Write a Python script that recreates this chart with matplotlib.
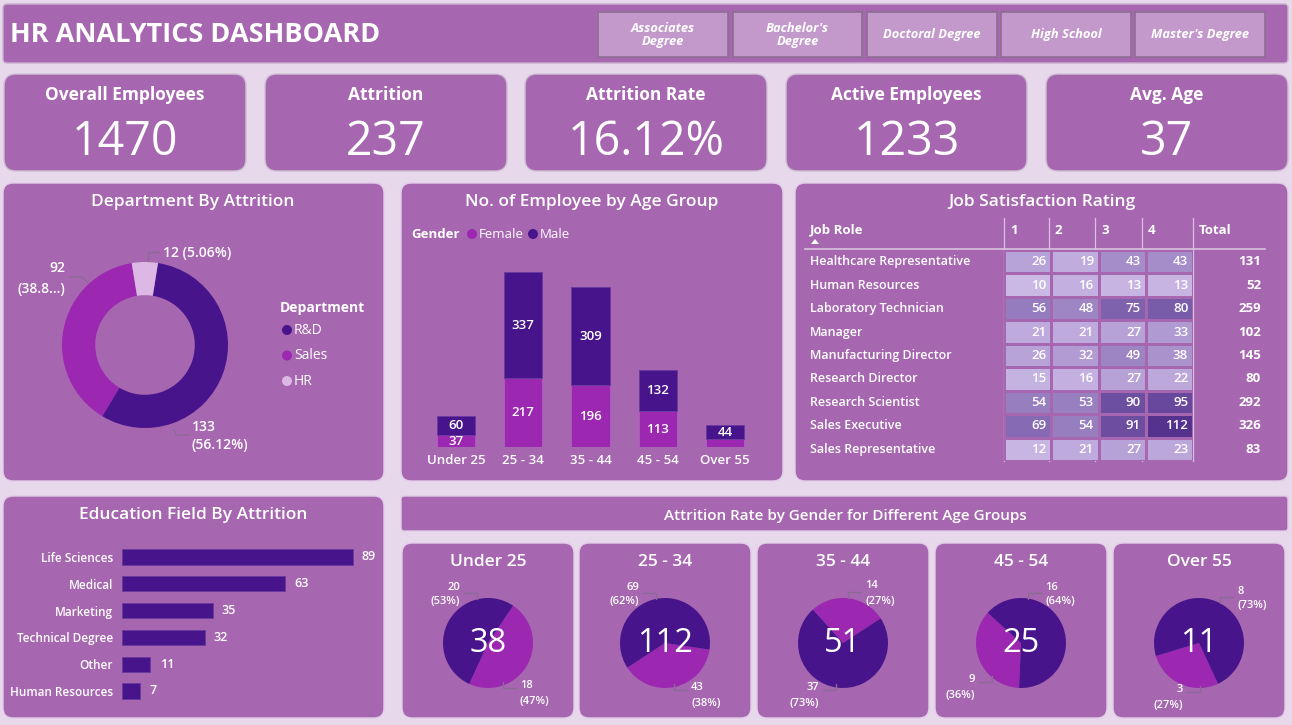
import numpy as np
import matplotlib
matplotlib.use('Agg')
import matplotlib.pyplot as plt
from matplotlib.patches import FancyBboxPatch, Circle, Polygon
from matplotlib.colors import LinearSegmentedColormap

plt.rcParams['font.family'] = ['Open Sans', 'DejaVu Sans']

# ---------------- data ----------------
edu_buttons = ["Associates\nDegree", "Bachelor's\nDegree", "Doctoral Degree", "High School", "Master's Degree"]

kpi_titles = ['Overall Employees', 'Attrition', 'Attrition Rate', 'Active Employees', 'Avg. Age']
kpi_values = ['1470', '237', '16.12%', '1233', '37']

dept_names = ['R&D', 'Sales', 'HR']
dept_attrition = [133, 92, 12]

age_groups = ['Under 25', '25 - 34', '35 - 44', '45 - 54', 'Over 55']
female_count = [37, 217, 196, 113, 25]
male_count = [60, 337, 309, 132, 44]

job_roles = ['Healthcare Representative', 'Human Resources', 'Laboratory Technician', 'Manager',
             'Manufacturing Director', 'Research Director', 'Research Scientist', 'Sales Executive',
             'Sales Representative']
sat_levels = ['1', '2', '3', '4']
sat_counts = [[26, 19, 43, 43],
              [10, 16, 13, 13],
              [56, 48, 75, 80],
              [21, 21, 27, 33],
              [26, 32, 49, 38],
              [15, 16, 27, 22],
              [54, 53, 90, 95],
              [69, 54, 91, 112],
              [12, 21, 27, 23]]

edu_fields = ['Life Sciences', 'Medical', 'Marketing', 'Technical Degree', 'Other', 'Human Resources']
edu_attrition = [89, 63, 35, 32, 11, 7]

attr_female = [18, 43, 14, 9, 3]
attr_male = [20, 69, 37, 16, 8]

# ---------------- style ----------------
BG = '#E8D8EC'
PANEL = '#A666B0'
EDGE = '#E3CCE8'
DARK = '#48148B'
MAG = '#9C27B0'
LIGHT = '#DDB8E4'
BTN = '#C398CB'
LEAD = '#8A6C93'
W, H = 1292, 725

fig = plt.figure(figsize=(W / 100, H / 100), dpi=100)
fig.patch.set_facecolor(BG)
bg = fig.add_axes([0, 0, 1, 1])
bg.set_xlim(0, W)
bg.set_ylim(H, 0)
bg.axis('off')


def card(x0, y0, x1, y1, r=10, fc=PANEL, ec=EDGE, lw=1.0):
    bg.add_patch(FancyBboxPatch((x0, y0), x1 - x0, y1 - y0,
                                boxstyle=f'round,pad=0,rounding_size={r}',
                                fc=fc, ec=ec, lw=lw))


def txt(x, y, s, size=10, weight='normal', ha='center', va='center', color='white', ax=None, **kw):
    (ax or bg).text(x, y, s, fontsize=size, fontweight=weight, ha=ha, va=va, color=color, **kw)


def sub(x0, y0, x1, y1):
    ax = fig.add_axes([x0 / W, 1 - y1 / H, (x1 - x0) / W, (y1 - y0) / H])
    ax.set_facecolor('none')
    return ax


def leader(pts, ax=None):
    xs, ys = zip(*pts)
    (ax or bg).plot(xs, ys, color=LEAD, lw=0.9)


# ---------------- header ----------------
card(3, 4, 1288, 63, r=4, ec='#C9B2CE')
txt(10, 34.5, 'HR ANALYTICS DASHBOARD', size=19.5, weight='bold', ha='left')
btn_x = [(598, 728), (733, 862), (867, 997), (1001, 1131), (1135, 1265)]
for (x0, x1), name in zip(btn_x, edu_buttons):
    card(x0, 12, x1, 57, r=0, fc=BTN, ec='#8C6E92', lw=1.2)
    txt((x0 + x1) / 2, 34.5, name, size=9.3, weight='bold', style='italic', linespacing=1.0)

# ---------------- KPI cards ----------------
kpi_x = [(4, 246), (265, 507), (525, 767), (786, 1027), (1046, 1288)]
for (x0, x1), t, v in zip(kpi_x, kpi_titles, kpi_values):
    card(x0, 74, x1, 171, r=12, ec='#CDBFD1')
    txt((x0 + x1) / 2, 95, t, size=12.5, weight='bold')
    txt((x0 + x1) / 2, 142, v, size=33.5)

# ---------------- Department donut ----------------
card(3, 183, 384, 481)
txt(193, 202, 'Department By Attrition', size=12.5, weight='semibold')
ax = sub(62, 262, 228, 428)
ax.pie(dept_attrition, colors=[DARK, MAG, LIGHT], startangle=81, counterclock=False,
       wedgeprops=dict(width=0.4, edgecolor='none'), radius=1)
ax.set_xlim(-1, 1)
ax.set_ylim(-1, 1)
txt(192, 427, '133', size=10, weight='semibold', ha='left')
txt(192, 445, '(56.12%)', size=10, weight='semibold', ha='left')
leader([(174, 429), (176, 435), (189, 435)])
txt(65, 268, '92', size=10, weight='semibold', ha='right')
txt(65, 289, '(38.8...)', size=10, weight='semibold', ha='right')
leader([(70, 277), (82, 277), (88, 283)])
txt(163, 253, '12 (5.06%)', size=10, weight='semibold', ha='left')
leader([(148, 261), (148, 252), (159, 252)])
txt(280, 308, 'Department', size=10, weight='bold', ha='left')
for i, (name, col) in enumerate(zip(dept_names, [DARK, MAG, LIGHT])):
    yy = 330 + i * 25.5
    bg.add_patch(Circle((287, yy), 5, fc=col, ec='none'))
    txt(294, yy, name, size=10, ha='left')

# ---------------- Age group stacked bars ----------------
card(401, 183, 783, 481)
txt(592, 202, 'No. of Employee by Age Group', size=12.5, weight='semibold')
txt(411, 234, 'Gender', size=9.5, weight='bold', ha='left')
bg.add_patch(Circle((472, 234), 5, fc=MAG, ec='none'))
txt(479, 234, 'Female', size=9.5, ha='left')
bg.add_patch(Circle((533, 234), 5, fc=DARK, ec='none'))
txt(540, 234, 'Male', size=9.5, ha='left')
ax = sub(415.6, 272, 765.4, 447)
xs = np.arange(len(age_groups))
ax.bar(xs, female_count, width=0.57, color=MAG, edgecolor='#B35BC0', lw=0.6)
ax.bar(xs, male_count, bottom=female_count, width=0.57, color=DARK, edgecolor='#6A3AA0', lw=0.6)
for x, f, m in zip(xs, female_count, male_count):
    if f > 30:
        ax.text(x, f / 2, str(f), ha='center', va='center', color='white', fontsize=9.5, fontweight='semibold')
    ax.text(x, f + m / 2, str(m), ha='center', va='center', color='white', fontsize=9.5, fontweight='semibold')
ax.set_xlim(-0.6, 4.6)
ax.set_ylim(0, max(f + m for f, m in zip(female_count, male_count)))
ax.set_xticks(xs, age_groups)
ax.tick_params(axis='x', length=0, pad=5, colors='white', labelsize=9.5)
for lab in ax.get_xticklabels():
    lab.set_fontweight('semibold')
ax.set_yticks([])
for s in ax.spines.values():
    s.set_visible(False)

# ---------------- Job satisfaction table ----------------
card(795, 183, 1288, 481)
txt(1042, 202, 'Job Satisfaction Rating', size=12.5, weight='semibold')
col_x = [1004, 1049, 1095, 1142, 1193]
row_top, row_h = 250, 23.45
cmap = LinearSegmentedColormap.from_list('sat', ['#CAB8E5', '#54328E'])
ax = sub(1004, row_top, 1193, row_top + row_h * len(job_roles))
ax.pcolormesh(np.array(sat_counts), cmap=cmap, vmin=10, vmax=112, edgecolors=PANEL, linewidth=0.8)
ax.set_xlim(0, 4)
ax.set_ylim(len(job_roles), 0)
ax.axis('off')
for i, row in enumerate(sat_counts):
    for j, v in enumerate(row):
        ax.text(j + 0.9, i + 0.5, str(v), ha='right', va='center', color='white',
                fontsize=9.5, fontweight='semibold')
for i, (role, row) in enumerate(zip(job_roles, sat_counts)):
    yy = row_top + (i + 0.5) * row_h
    txt(810, yy, role, size=9, weight='semibold', ha='left')
    txt(1261, yy, str(sum(row)), size=9.5, weight='bold', ha='right')
txt(810, 230, 'Job Role', size=9.5, weight='bold', ha='left')
bg.add_patch(Polygon([(811, 244), (819, 244), (815, 239)], closed=True, fc='white', ec='none'))
for cx, lab in zip(col_x, sat_levels + ['Total']):
    txt(cx + 6, 230, lab, size=9.5, weight='bold', ha='left')
bg.plot([805, 1265], [249, 249], color='#D9C2DF', lw=1.2)
for cx in col_x:
    bg.plot([cx, cx], [218, 461], color='#D9C2DF', lw=0.9)

# ---------------- Education field bars ----------------
card(3, 496, 384, 718)
txt(193, 515, 'Education Field By Attrition', size=12.5, weight='semibold')
ax = sub(122, 543.6, 381, 704.4)
ys = np.arange(len(edu_fields))
ax.barh(ys, edu_attrition, height=0.57, color=DARK, edgecolor='#6A3AA0', lw=0.6)
for y, v in zip(ys, edu_attrition):
    ax.annotate(str(v), (v, y), xytext=(6.5, 0), textcoords='offset points', ha='left', va='center',
                color='white', fontsize=9, fontweight='semibold')
ax.set_xlim(0, 100)
ax.set_ylim(5.5, -0.5)
ax.set_yticks(ys, edu_fields)
ax.tick_params(axis='y', length=0, pad=6.5, colors='white', labelsize=8.5)
for lab in ax.get_yticklabels():
    lab.set_fontweight('semibold')
ax.set_xticks([])
for s in ax.spines.values():
    s.set_visible(False)

# ---------------- Attrition by gender pies ----------------
card(401, 496, 1288, 531, r=3)
txt(845, 516, 'Attrition Rate by Gender for Different Age Groups', size=11, weight='semibold')
pie_cards = [(402, 574), (579, 751), (757, 929), (935, 1107), (1113, 1285)]
female_start = [34, 98.5, 318, 182.5, 155]   # clockwise from 12 o'clock
# label anchors: (dx, dy, ha) for male and female labels, relative to pie centre
male_lab = [(-28, -56, 'right'), (-26, -56, 'right'), (-24, 45, 'right'), (24, -56, 'left'), (38, -52, 'left')]
fem_lab = [(32, 43, 'left'), (26, 45, 'left'), (22, -57, 'left'), (-46, 37, 'right'), (-16, 47, 'right')]
cy = 643
for k, (x0, x1) in enumerate(pie_cards):
    cx = (x0 + x1) / 2
    card(x0, 543, x1, 718)
    txt(cx, 562, age_groups[k], size=12.5, weight='semibold')
    ax = sub(cx - 45, cy - 45, cx + 45, cy + 45)
    ax.pie([attr_female[k], attr_male[k]], colors=[MAG, DARK], startangle=90 - female_start[k],
           counterclock=False, wedgeprops=dict(edgecolor='none'))
    ax.set_xlim(-1, 1)
    ax.set_ylim(-1, 1)
    tot = attr_female[k] + attr_male[k]
    ax.text(0, -0.02, str(tot), ha='center', va='center', color='white', fontsize=23.5)

# overlay for the pie data labels so they sit above the pies
fg = fig.add_axes([0, 0, 1, 1], zorder=5)
fg.set_xlim(0, W)
fg.set_ylim(H, 0)
fg.axis('off')
for k, (x0, x1) in enumerate(pie_cards):
    cx = (x0 + x1) / 2
    tot = attr_female[k] + attr_male[k]
    for (dx, dy, ha), v in [(male_lab[k], attr_male[k]), (fem_lab[k], attr_female[k])]:
        pct = f'({round(100 * v / tot)}%)'
        txt(cx + dx, cy + dy, str(v), size=8, weight='semibold', ha=ha, ax=fg)
        txt(cx + dx, cy + dy + 15, pct, size=8, weight='semibold', ha=ha, ax=fg)
        sgn = 1 if ha == 'right' else -1
        ex = cx + dx + sgn * 4
        if dy < 0:
            leader([(ex, cy + dy + 6), (ex + sgn * 13, cy + dy + 6), (ex + sgn * 13, cy + dy + 12)], ax=fg)
        else:
            leader([(ex + sgn * 13, cy + dy - 4), (ex + sgn * 13, cy + dy + 2), (ex, cy + dy + 2)], ax=fg)

fig.savefig('out.png', dpi=100, facecolor=BG)
